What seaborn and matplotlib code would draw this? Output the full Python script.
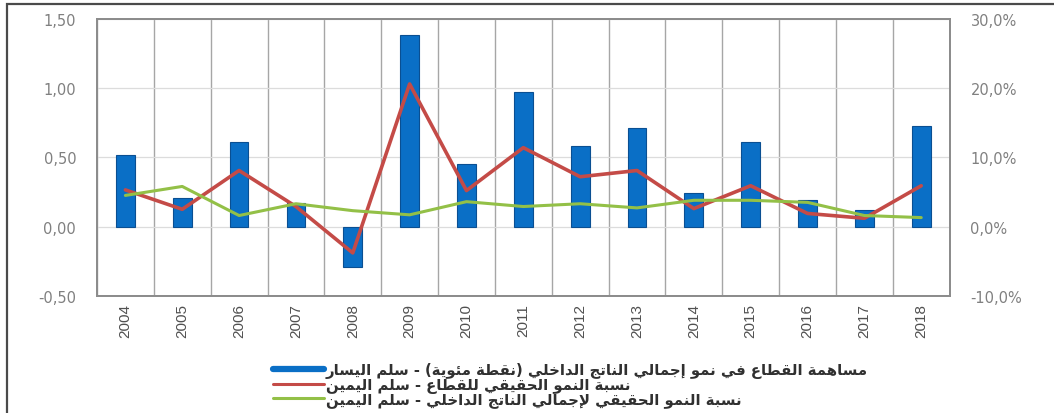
import numpy as np
import pandas as pd
import matplotlib
matplotlib.use("Agg")
import matplotlib.pyplot as plt
import seaborn as sns
from matplotlib.lines import Line2D
from matplotlib.patches import Rectangle
from matplotlib import font_manager

# data
years = ['2004', '2005', '2006', '2007', '2008', '2009', '2010', '2011',
         '2012', '2013', '2014', '2015', '2016', '2017', '2018']
contribution = [0.52, 0.21, 0.61, 0.17, -0.29, 1.38, 0.45, 0.97,
                0.58, 0.71, 0.24, 0.61, 0.19, 0.12, 0.73]
sector_growth = [5.3, 2.5, 8.1, 2.9, -3.8, 20.6, 5.2, 11.4,
                 7.2, 8.1, 2.6, 5.9, 1.9, 1.2, 5.9]
gdp_growth = [4.5, 5.8, 1.6, 3.3, 2.3, 1.7, 3.6, 2.9,
              3.3, 2.7, 3.8, 3.8, 3.5, 1.6, 1.3]
left_ticks = [-0.5, 0.0, 0.5, 1.0, 1.5]
right_ticks = [-10, 0, 10, 20, 30]
labels = [
    'مساهمة القطاع في نمو إجمالي الناتج الداخلي (نقطة مئوية) - سلم اليسار',
    'نسبة النمو الحقيقي للقطاع - سلم اليمين',
    'نسبة النمو الحقيقي لإجمالي الناتج الداخلي - سلم اليمين',
]

# minimal arabic shaping (matplotlib has no shaping / bidi)
_table = [(0x0621, 0xFE80, 1), (0x0622, 0xFE81, 2), (0x0623, 0xFE83, 2),
          (0x0624, 0xFE85, 2), (0x0625, 0xFE87, 2), (0x0626, 0xFE89, 4),
          (0x0627, 0xFE8D, 2), (0x0628, 0xFE8F, 4), (0x0629, 0xFE93, 2),
          (0x062A, 0xFE95, 4), (0x062B, 0xFE99, 4), (0x062C, 0xFE9D, 4),
          (0x062D, 0xFEA1, 4), (0x062E, 0xFEA5, 4), (0x062F, 0xFEA9, 2),
          (0x0630, 0xFEAB, 2), (0x0631, 0xFEAD, 2), (0x0632, 0xFEAF, 2),
          (0x0633, 0xFEB1, 4), (0x0634, 0xFEB5, 4), (0x0635, 0xFEB9, 4),
          (0x0636, 0xFEBD, 4), (0x0637, 0xFEC1, 4), (0x0638, 0xFEC5, 4),
          (0x0639, 0xFEC9, 4), (0x063A, 0xFECD, 4), (0x0641, 0xFED1, 4),
          (0x0642, 0xFED5, 4), (0x0643, 0xFED9, 4), (0x0644, 0xFEDD, 4),
          (0x0645, 0xFEE1, 4), (0x0646, 0xFEE5, 4), (0x0647, 0xFEE9, 4),
          (0x0648, 0xFEED, 2), (0x0649, 0xFEEF, 2), (0x064A, 0xFEF1, 4)]
FORMS = {chr(b): [chr(p + k) for k in range(n)] for b, p, n in _table}
LAMALEF = {'آ': 0xFEF5, 'أ': 0xFEF7, 'إ': 0xFEF9, 'ا': 0xFEFB}


def shape_ar(text):
    out = []
    i = 0
    while i < len(text):
        c = text[i]
        if c not in FORMS:
            out.append(c)
            i += 1
            continue
        prev_joins = i > 0 and text[i - 1] in FORMS and len(FORMS[text[i - 1]]) == 4
        nxt = text[i + 1] if i + 1 < len(text) else ''
        if c == 'ل' and nxt in LAMALEF:
            out.append(chr(LAMALEF[nxt] + (1 if prev_joins else 0)))
            i += 2
            continue
        forms = FORMS[c]
        next_joins = len(forms) == 4 and nxt in FORMS and nxt != 'ء'
        if len(forms) == 1:
            f = forms[0]
        elif prev_joins and next_joins:
            f = forms[3]
        elif prev_joins:
            f = forms[1]
        elif next_joins:
            f = forms[2]
        else:
            f = forms[0]
        out.append(f)
        i += 1
    mirror = {'(': ')', ')': '('}
    return ''.join(mirror.get(ch, ch) for ch in reversed(out))


sns.set_theme(style="white")
plt.rcParams['font.family'] = ['DejaVu Sans']

installed = {f.name for f in font_manager.fontManager.ttflist}
year_font = 'Liberation Sans Narrow' if 'Liberation Sans Narrow' in installed else 'Liberation Sans'

df = pd.DataFrame({'year': years, 'contribution': contribution,
                   'pos': np.arange(len(years)),
                   'sector': sector_growth, 'gdp': gdp_growth})

fig = plt.figure(figsize=(10.54, 4.14), dpi=100)
ax = fig.add_axes([0.092, 0.283, 0.809, 0.669])

sns.barplot(data=df, x='year', y='contribution', ax=ax, color='#0a6fc6',
            saturation=1, width=0.33, edgecolor='#0a4f92', linewidth=0.8, zorder=3)
ax.set_xlim(-0.5, len(years) - 0.5)
ax.set_ylim(-0.5, 1.5)
ax.set_yticks(left_ticks)
ax.set_yticklabels([f'{v:.2f}'.replace('.', ',') for v in left_ticks])
ax.set_xticks(np.arange(len(years)))
ax.set_xticklabels(years, rotation=90, fontfamily=year_font, fontsize=11,
                   color='#505050')
ax.set_xlabel('')
ax.set_ylabel('')
ax.set_xticks(np.arange(-0.5, len(years)), minor=True)
ax.grid(which='minor', axis='x', color='#a6a6a6', linewidth=1.0, zorder=0)
ax.grid(which='major', axis='y', color='#dcdcdc', linewidth=0.9, zorder=0)
ax.grid(which='major', axis='x', visible=False)
ax.tick_params(axis='both', which='both', length=0)
ax.tick_params(axis='y', pad=15, labelsize=10.5, labelcolor='#808080')
ax.tick_params(axis='x', pad=5)

ax2 = ax.twinx()
sns.lineplot(data=df, x='pos', y='sector', ax=ax2, color='#c44b47', linewidth=2.6)
sns.lineplot(data=df, x='pos', y='gdp', ax=ax2, color='#93c047', linewidth=2.2)
ax2.set_ylim(-10, 30)
ax2.set_yticks(right_ticks)
ax2.set_yticklabels([f'{v:.1f}'.replace('.', ',') + '%' for v in right_ticks])
ax2.set_xlabel('')
ax2.set_ylabel('')
ax2.grid(False)
ax2.tick_params(axis='y', length=0, pad=15, labelsize=10.5, labelcolor='#808080')

for a in (ax, ax2):
    for s in a.spines.values():
        s.set_color('#8c8c8c')
        s.set_linewidth(1.3)

handles = [Line2D([], [], color='#0a6fc6', linewidth=4.5),
           Line2D([], [], color='#c44b47', linewidth=2.2),
           Line2D([], [], color='#93c047', linewidth=2.2)]
fig.legend(handles, [shape_ar(t) for t in labels], loc='upper left',
           bbox_to_anchor=(273 / 1054, 1 - 363 / 414), frameon=False,
           prop={'size': 10.7, 'weight': 'bold'}, handlelength=3.4,
           handletextpad=0.15, labelspacing=-0.08,
           borderpad=0, borderaxespad=0, labelcolor='#303030')

# outer frame of the original picture
fig.add_artist(Rectangle((7 / 1054, -0.05), 1.2, 1.05 - 5 / 414, transform=fig.transFigure,
                         fill=False, edgecolor='#4a4a4a', linewidth=1.6))

fig.savefig('out.png', dpi=100)
